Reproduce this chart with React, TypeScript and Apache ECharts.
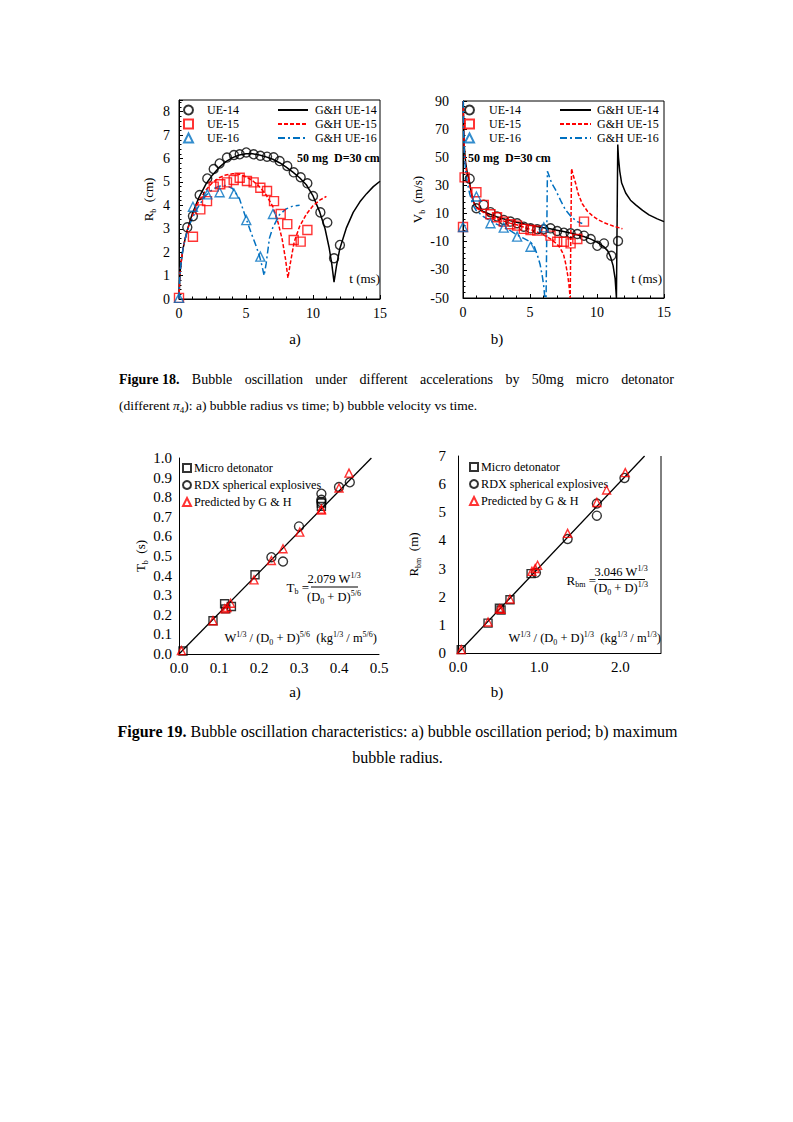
import React, { useEffect, useRef } from 'react';
import * as echarts from 'echarts';

const FONT = '"Liberation Serif", "Times New Roman", serif';

// ---------- Figure 18 a) bubble radius vs time ----------
const radT_UE14 = [0.62, 1.04, 1.54, 2.11, 2.59, 3.03, 3.58, 4.1, 4.53, 5.02, 5.57, 6.07, 6.57, 7.06, 7.51, 8.08, 8.56, 9.08, 9.58, 10.0, 10.55, 11.07, 11.57, 12.01];
const radR_UE14 = [3.06, 3.54, 4.44, 5.15, 5.55, 5.79, 6.04, 6.15, 6.18, 6.26, 6.18, 6.12, 6.08, 6.05, 5.89, 5.68, 5.41, 5.2, 4.94, 4.4, 3.7, 3.27, 1.74, 2.31];
const radT_UE15 = [0, 1.04, 1.59, 2.09, 2.59, 3.08, 3.58, 4.08, 4.53, 5.07, 5.57, 6.07, 6.57, 7.09, 7.59, 8.08, 8.56, 9.08, 9.58];
const radR_UE15 = [0.05, 2.66, 3.83, 4.18, 4.8, 4.9, 4.98, 5.08, 5.18, 5.04, 4.98, 4.75, 4.61, 4.18, 3.63, 3.2, 2.52, 2.45, 2.95];
const radT_UE16 = [0, 1.04, 2.11, 3.03, 4.1, 5.02, 6.07, 7.01];
const radR_UE16 = [0.05, 3.94, 4.47, 4.56, 4.5, 3.37, 1.81, 3.63];

const ghRadT_14 = [0, 0.05, 0.1, 0.2, 0.3, 0.45, 0.6, 0.8, 1.0, 1.25, 1.5, 2, 2.5, 3, 3.5, 4, 4.5, 5, 5.5, 6, 6.5, 7, 7.5, 8, 8.5, 9, 9.5, 10, 10.5, 10.9, 11.2, 11.4, 11.57, 11.75, 12, 12.5, 13, 13.5, 14, 14.5, 15];
const ghRadR_14 = [0, 0.8, 1.25, 1.75, 2.15, 2.55, 2.9, 3.3, 3.65, 4.0, 4.35, 4.9, 5.3, 5.62, 5.87, 6.04, 6.15, 6.2, 6.2, 6.15, 6.07, 5.97, 5.82, 5.63, 5.42, 5.18, 4.88, 4.4, 3.72, 3.0, 2.2, 1.5, 0.72, 1.4, 2.15, 3.05, 3.7, 4.15, 4.5, 4.8, 5.03];
const ghRadT_15 = [0, 0.05, 0.1, 0.2, 0.3, 0.45, 0.6, 0.8, 1.0, 1.25, 1.5, 2, 2.5, 3, 3.5, 4, 4.5, 5, 5.5, 6, 6.5, 7, 7.4, 7.7, 7.95, 8.13, 8.3, 8.6, 9, 9.5, 10, 10.5, 11];
const ghRadR_15 = [0, 0.8, 1.25, 1.75, 2.15, 2.55, 2.9, 3.25, 3.55, 3.9, 4.2, 4.65, 4.98, 5.18, 5.3, 5.35, 5.33, 5.22, 5.05, 4.8, 4.45, 3.95, 3.25, 2.55, 1.7, 0.9, 1.5, 2.45, 3.1, 3.62, 3.98, 4.22, 4.38];
const ghRadT_16 = [0, 0.05, 0.1, 0.2, 0.3, 0.45, 0.6, 0.8, 1.0, 1.25, 1.5, 2, 2.5, 3, 3.5, 4, 4.5, 5, 5.4, 5.7, 6.0, 6.2, 6.35, 6.5, 6.75, 7, 7.5, 8, 8.5, 9];
const ghRadR_16 = [0, 0.8, 1.25, 1.75, 2.15, 2.55, 2.85, 3.2, 3.45, 3.75, 4.0, 4.42, 4.68, 4.82, 4.85, 4.72, 4.3, 3.45, 2.8, 2.35, 1.85, 1.4, 1.0, 1.5, 2.6, 3.05, 3.6, 3.85, 3.97, 4.0];

// ---------- Figure 18 b) bubble velocity vs time ----------
const velT_UE14 = [0.5, 1.0, 1.55, 2.05, 2.54, 3.04, 3.54, 4.04, 4.54, 5.04, 5.54, 6.03, 6.53, 7.03, 7.53, 8.03, 8.53, 9.03, 9.53, 10.02, 10.52, 11.07, 11.57];
const velV_UE14 = [34.8, 13.8, 16.2, 11.0, 7.9, 5.5, 4.3, 3.1, 0.7, -0.5, -1.2, -1.2, -0.5, -2.4, -3.6, -4.0, -4.5, -5.7, -8.1, -12.9, -11.2, -20.0, -9.5];
const velT_UE15 = [0, 0.12, 1.0, 1.55, 2.05, 2.54, 3.04, 3.54, 4.04, 4.54, 5.04, 5.54, 6.53, 7.03, 7.53, 8.03, 8.53, 9.03];
const velV_UE15 = [0.5, 35.7, 25.2, 16.2, 9.5, 7.4, 4.3, 2.4, 1.4, -0.9, -1.7, -2.1, -5.7, -10, -10, -11.2, -8.1, 4.3];
const velT_UE16 = [0, 1.0, 2.05, 3.04, 4.04, 5.04, 6.03];
const velV_UE16 = [0.5, 22.1, 3.1, 0.0, -6.4, -13.6, 0.2];

const ghVelT_14 = [0.02, 0.05, 0.1, 0.2, 0.3, 0.4, 0.5, 0.6, 0.75, 1, 1.5, 2, 2.5, 3, 3.5, 4, 4.5, 5, 5.5, 6, 6.5, 7, 7.5, 8, 8.5, 9, 9.5, 10, 10.5, 10.8, 11, 11.2, 11.35, 11.45, 11.5, 11.55, 11.6, 11.7, 11.84, 12.14, 12.5, 12.89, 13.4, 13.88, 14.5, 15];
const ghVelV_14 = [90, 72, 57, 46, 40, 36, 32, 26, 19, 14.5, 11.5, 9.5, 7.8, 6.3, 5, 3.8, 2.8, 1.8, 0.8, 0, -0.8, -1.8, -2.8, -3.8, -5, -6.3, -8, -10.3, -13.5, -16.5, -20.5, -27, -36, -50, -50, 59, 50, 40, 31.7, 24.6, 19.5, 16.2, 12.3, 9.1, 6.2, 4.3];
const ghVelT_15 = [0.02, 0.05, 0.1, 0.2, 0.3, 0.5, 0.75, 1, 1.5, 2, 2.5, 3, 3.5, 4, 4.5, 5, 5.5, 6, 6.5, 7, 7.25, 7.5, 7.65, 7.8, 7.9, 8.0, 8.05, 8.1, 8.2, 8.4, 8.6, 8.9, 9.3, 9.65, 10.1, 10.64, 11.2, 11.9];
const ghVelV_15 = [90, 70, 55, 44, 38, 30, 19, 14, 11, 8.5, 6.5, 4.8, 3.2, 2, 0.5, -1.2, -3, -5.2, -7.8, -11.5, -14.5, -19, -25, -33, -40, -50, -50, 42, 38, 31.7, 24, 17, 11.5, 8.5, 5.5, 3.1, 1.2, -0.8];
const ghVelT_16 = [0.02, 0.05, 0.1, 0.2, 0.3, 0.5, 0.75, 1, 1.5, 2, 2.5, 3, 3.5, 4, 4.5, 5, 5.3, 5.55, 5.75, 5.91, 6.02, 6.11, 6.2, 6.3, 6.4, 6.6, 6.9, 7.3, 7.65, 8.1, 8.53, 8.9];
const ghVelV_16 = [90, 68, 52, 40, 33, 24, 16, 12, 8, 5, 2.5, 0.5, -2, -5, -7.5, -10, -13, -19.5, -26, -34, -41, -50, -50, 40, 37.6, 32, 27, 19, 12.6, 7.5, 4.3, 3];

// ---------- Figure 19 a) oscillation period ----------
const perMicroX = [0.01, 0.085, 0.114, 0.117, 0.131, 0.19, 0.356, 0.356];
const perMicroY = [0.015, 0.17, 0.256, 0.23, 0.242, 0.404, 0.77, 0.753];
const perRdxX = [0.231, 0.26, 0.3, 0.356, 0.356, 0.356, 0.4, 0.427];
const perRdxY = [0.494, 0.472, 0.651, 0.818, 0.787, 0.775, 0.852, 0.876];
const perPredX = [0.006, 0.085, 0.114, 0.12, 0.129, 0.1875, 0.231, 0.26, 0.302, 0.356, 0.356, 0.4, 0.425];
const perPredY = [0.017, 0.17, 0.23, 0.237, 0.259, 0.378, 0.477, 0.537, 0.622, 0.739, 0.735, 0.847, 0.923];
const perFitX = [0, 0.481];
const perFitY = [0, 1.0];

// ---------- Figure 19 b) maximum bubble radius ----------
const radMicroX = [0.04, 0.37, 0.51, 0.53, 0.64, 0.9];
const radMicroY = [0.12, 1.06, 1.59, 1.53, 1.89, 2.82];
const radRdxX = [0.96, 1.35, 1.71, 1.71, 2.05];
const radRdxY = [2.85, 4.05, 5.31, 4.88, 6.22];
const radPredX = [0.04, 0.37, 0.51, 0.53, 0.64, 0.91, 0.95, 0.98, 1.35, 1.71, 1.83, 2.06];
const radPredY = [0.12, 1.1, 1.57, 1.55, 1.92, 2.9, 3.0, 3.12, 4.25, 5.35, 5.79, 6.41];
const radFitX = [0, 2.298];
const radFitY = [0, 7.0];

const zip = (a: number[], b: number[]) => a.map((v, i) => [v, b[i]]);

const richSet = (size: number) => ({
  n: { fontSize: size, fontFamily: FONT, color: '#000', fill: '#000', lineHeight: Math.round(size * 1.3), verticalAlign: 'middle' },
  bb: { fontSize: size, fontFamily: FONT, fontWeight: 'bold', color: '#000', fill: '#000', lineHeight: Math.round(size * 1.3), verticalAlign: 'middle' },
  i: { fontSize: size, fontFamily: FONT, fontStyle: 'italic', color: '#000', fill: '#000', lineHeight: Math.round(size * 1.3), verticalAlign: 'middle' },
  sup: { fontSize: Math.round(size * 0.64), fontFamily: FONT, color: '#000', fill: '#000', lineHeight: Math.round(size * 0.75), verticalAlign: 'top' },
  sub: { fontSize: Math.round(size * 0.64), fontFamily: FONT, color: '#000', fill: '#000', lineHeight: Math.round(size * 0.75), verticalAlign: 'bottom' },
});

const BLACK = '#000000';
const RED = '#ff0000';
const BLUE = '#0070c0';

function rtext(x: number, y: number, text: string, size: number, align = 'left') {
  return { type: 'text', x, y, style: { text, rich: richSet(size), align, verticalAlign: 'middle', fill: '#000', fontFamily: FONT, fontSize: size } };
}
function ptext(x: number, y: number, text: string, size: number, align = 'left', bold = false) {
  return { type: 'text', x, y, style: { text, fill: '#000', fontFamily: FONT, fontSize: size, fontWeight: bold ? 'bold' : 'normal', align, verticalAlign: 'middle' } };
}

function justified(tokens: { t: string; bold?: boolean }[], x0: number, x1: number, y: number, size: number) {
  const ctx = document.createElement('canvas').getContext('2d')!;
  const widths = tokens.map((w) => {
    ctx.font = `${w.bold ? 'bold ' : ''}${size}px "Liberation Serif"`;
    return ctx.measureText(w.t).width;
  });
  const total = widths.reduce((a, b) => a + b, 0);
  const gap = (x1 - x0 - total) / (tokens.length - 1);
  let x = x0;
  return tokens.map((w, i) => {
    const el = ptext(x, y, w.t, size, 'left', !!w.bold);
    x += widths[i] + gap;
    return el;
  });
}

const axisCommon = {
  type: 'value',
  splitLine: { show: false },
  axisLine: { show: true, onZero: false, lineStyle: { color: BLACK, width: 1 } },
  axisLabel: { color: BLACK, fontFamily: FONT, fontSize: 14 },
};
const tickStyle = {
  axisTick: { show: true, inside: true, length: 4, lineStyle: { color: BLACK, width: 1 } },
  minorTick: { show: true, splitNumber: 5, length: 2.5, lineStyle: { color: BLACK, width: 1 } },
};
const noTicks = { axisTick: { show: false }, minorTick: { show: false } };
const intOnly = (v: number) => (Math.abs(v - Math.round(v)) < 1e-9 ? String(Math.round(v)) : '');

function buildOption() {
  const scat = (name: string, xi: number, data: number[][], symbol: string, color: string, size = 9) => ({
    type: 'scatter', name, xAxisIndex: xi, yAxisIndex: xi, data, symbol, symbolSize: size,
    itemStyle: { color: 'rgba(255,255,255,0)', borderColor: color, borderWidth: 1.4 }, z: 4,
  });
  const line = (name: string, xi: number, data: number[][], color: string, type: any, width = 1.5) => ({
    type: 'line', name, xAxisIndex: xi, yAxisIndex: xi, data, symbol: 'none', clip: true,
    lineStyle: { color, width, type }, itemStyle: { color }, z: 3,
  });

  const legendText = { color: BLACK, fontFamily: FONT, fontSize: 12, lineHeight: 14 };
  const legendText19 = { color: BLACK, fontFamily: FONT, fontSize: 12.2, lineHeight: 14 };
  const hiddenSymbol = { color: 'rgba(0,0,0,0)', borderColor: 'rgba(0,0,0,0)', borderWidth: 0, opacity: 0 };

  const graphic: any[] = [
    // figure 18 annotations
    ptext(297, 158, '50 mg  D=30 cm', 12, 'left', true),
    ptext(468, 158, '50 mg  D=30 cm', 12, 'left', true),
    ptext(380, 278, 't (ms)', 13, 'right'),
    ptext(662, 278, 't (ms)', 13, 'right'),
    ptext(295, 339, 'a)', 15, 'center'),
    ptext(497, 339, 'b)', 15, 'center'),
    ...justified(
      [
        { t: 'Figure 18.', bold: true }, { t: 'Bubble' }, { t: 'oscillation' }, { t: 'under' }, { t: 'different' },
        { t: 'accelerations' }, { t: 'by' }, { t: '50mg' }, { t: 'micro' }, { t: 'detonator' },
      ],
      119, 674, 379, 14,
    ),
    rtext(119, 405, '{n|(different }{i|π}{sub|4}{n|): a) bubble radius vs time; b) bubble velocity vs time.}', 13.5, 'left'),
    // figure 19 annotations
    rtext(309, 587, '{n|T}{sub|b}{n| =}', 13, 'right'),
    rtext(334, 579, '{n|2.079 W}{sup|1/3}', 12.5, 'center'),
    { type: 'line', shape: { x1: 311, y1: 587, x2: 358, y2: 587 }, style: { stroke: BLACK, lineWidth: 1 } },
    rtext(334, 597, '{n|(D}{sub|0}{n| + D)}{sup|5/6}', 12.5, 'center'),
    rtext(377, 638, '{n|W}{sup|1/3}{n| / (D}{sub|0}{n| + D)}{sup|5/6}{n|  (kg}{sup|1/3}{n| / m}{sup|5/6}{n|)}', 12.5, 'right'),
    rtext(596, 580, '{n|R}{sub|bm}{n| =}', 13, 'right'),
    rtext(621, 572, '{n|3.046 W}{sup|1/3}', 12.5, 'center'),
    { type: 'line', shape: { x1: 598, y1: 579.5, x2: 645, y2: 579.5 }, style: { stroke: BLACK, lineWidth: 1 } },
    rtext(621, 588, '{n|(D}{sub|0}{n| + D)}{sup|1/3}', 12.5, 'center'),
    rtext(661, 638, '{n|W}{sup|1/3}{n| / (D}{sub|0}{n| + D)}{sup|1/3}{n|  (kg}{sup|1/3}{n| / m}{sup|1/3}{n|)}', 12.5, 'right'),
    { type: 'line', shape: { x1: 661, y1: 456, x2: 661, y2: 653 }, style: { stroke: BLACK, lineWidth: 1 } },
    ptext(295, 692, 'a)', 15, 'center'),
    ptext(497, 692, 'b)', 15, 'center'),
    rtext(397.5, 731, '{bb|Figure 19.}{n| Bubble oscillation characteristics: a) bubble oscillation period; b) maximum}', 16, 'center'),
    ptext(397.5, 757, 'bubble radius.', 16, 'center'),
  ];

  return {
    animation: false,
    backgroundColor: '#ffffff',
    textStyle: { fontFamily: FONT },
    grid: [
      { left: 179, top: 100, width: 201, height: 199, show: true, borderColor: BLACK, borderWidth: 1, backgroundColor: 'transparent' },
      { left: 463, top: 101, width: 201, height: 197, show: true, borderColor: BLACK, borderWidth: 1, backgroundColor: 'transparent' },
      { left: 179, top: 458, width: 200, height: 196 },
      { left: 458, top: 456, width: 203, height: 197 },
    ],
    xAxis: [
      { ...axisCommon, ...tickStyle, gridIndex: 0, min: 0, max: 15, interval: 5, axisLabel: { ...axisCommon.axisLabel, margin: 7 } },
      { ...axisCommon, ...tickStyle, gridIndex: 1, min: 0, max: 15, interval: 5, axisLabel: { ...axisCommon.axisLabel, margin: 7 } },
      { ...axisCommon, ...noTicks, gridIndex: 2, min: 0, max: 0.5, interval: 0.1, axisLabel: { ...axisCommon.axisLabel, fontSize: 15, margin: 6, formatter: (v: number) => v.toFixed(1) } },
      { ...axisCommon, ...noTicks, gridIndex: 3, min: 0, max: 2.5, interval: 1, axisLabel: { ...axisCommon.axisLabel, fontSize: 15, margin: 6, formatter: (v: number) => (Math.abs(v - Math.round(v)) < 1e-9 ? v.toFixed(1) : '') } },
    ],
    yAxis: [
      {
        ...axisCommon, ...tickStyle, gridIndex: 0, min: 0, max: 8.5, interval: 1,
        axisLabel: { ...axisCommon.axisLabel, margin: 9, formatter: intOnly },
        name: '{n|R}{sub|b}{n|  (cm)}', nameLocation: 'middle', nameGap: 22, nameTextStyle: { rich: richSet(13) },
      },
      {
        ...axisCommon, ...tickStyle, gridIndex: 1, min: -50, max: 90, interval: 20,
        axisLabel: { ...axisCommon.axisLabel, margin: 14 },
        name: '{n|V}{sub|b}{n|  (m/s)}', nameLocation: 'middle', nameGap: 21, nameTextStyle: { rich: richSet(13) },
      },
      {
        ...axisCommon, ...noTicks, gridIndex: 2, min: 0, max: 1, interval: 0.1,
        axisLabel: { ...axisCommon.axisLabel, fontSize: 15, margin: 7, formatter: (v: number) => v.toFixed(1) },
        name: '{n|T}{sub|b}{n|  (s)}', nameLocation: 'middle', nameGap: 21, nameTextStyle: { rich: richSet(13) },
      },
      {
        ...axisCommon, ...noTicks, gridIndex: 3, min: 0, max: 7, interval: 1,
        axisLabel: { ...axisCommon.axisLabel, fontSize: 15, margin: 12, formatter: intOnly },
        name: '{n|R}{sub|bm}{n|  (m)}', nameLocation: 'middle', nameGap: 36, nameTextStyle: { rich: richSet(13) },
      },
    ],
    legend: [
      { data: ['UE-14', 'UE-15', 'UE-16'], left: 183, top: 103, orient: 'vertical', padding: 0, itemWidth: 9, itemHeight: 9, itemGap: 0, selectedMode: false, textStyle: { ...legendText, padding: [0, 0, 0, 9] } },
      { data: ['G&H UE-14', 'G&H UE-15', 'G&H UE-16'], left: 277, top: 103, orient: 'vertical', padding: 0, itemWidth: 30, itemHeight: 10, itemGap: 0, selectedMode: false, itemStyle: hiddenSymbol, textStyle: { ...legendText, padding: [0, 0, 0, 2] } },
      { data: ['UE-14', 'UE-15', 'UE-16'], left: 464, top: 103, orient: 'vertical', padding: 0, itemWidth: 9, itemHeight: 9, itemGap: 0, selectedMode: false, textStyle: { ...legendText, padding: [0, 0, 0, 10] } },
      { data: ['G&H UE-14', 'G&H UE-15', 'G&H UE-16'], left: 559, top: 103, orient: 'vertical', padding: 0, itemWidth: 31, itemHeight: 10, itemGap: 0, selectedMode: false, itemStyle: hiddenSymbol, textStyle: { ...legendText, padding: [0, 0, 0, 1] } },
      { data: ['Micro detonator', 'RDX spherical explosives', 'Predicted by G & H'], left: 182, top: 461, orient: 'vertical', padding: 0, itemWidth: 8, itemHeight: 8, itemGap: 3, selectedMode: false, textStyle: { ...legendText19, padding: [0, 0, 0, -2] } },
      { data: ['Micro detonator', 'RDX spherical explosives', 'Predicted by G & H'], left: 469, top: 460, orient: 'vertical', padding: 0, itemWidth: 8, itemHeight: 8, itemGap: 3, selectedMode: false, textStyle: { ...legendText19, padding: [0, 0, 0, -2] } },
    ],
    graphic,
    series: [
      // 18 a
      line('G&H UE-14', 0, zip(ghRadT_14, ghRadR_14), BLACK, 'solid'),
      line('G&H UE-15', 0, zip(ghRadT_15, ghRadR_15), RED, [4, 2]),
      line('G&H UE-16', 0, zip(ghRadT_16, ghRadR_16), BLUE, [7, 3, 2, 3]),
      scat('UE-14', 0, zip(radT_UE14, radR_UE14), 'circle', BLACK),
      scat('UE-15', 0, zip(radT_UE15, radR_UE15), 'rect', RED),
      scat('UE-16', 0, zip(radT_UE16, radR_UE16), 'triangle', BLUE),
      // 18 b
      line('G&H UE-14', 1, zip(ghVelT_14, ghVelV_14), BLACK, 'solid'),
      line('G&H UE-15', 1, zip(ghVelT_15, ghVelV_15), RED, [4, 2]),
      line('G&H UE-16', 1, zip(ghVelT_16, ghVelV_16), BLUE, [7, 3, 2, 3]),
      scat('UE-14', 1, zip(velT_UE14, velV_UE14), 'circle', BLACK),
      scat('UE-15', 1, zip(velT_UE15, velV_UE15), 'rect', RED),
      scat('UE-16', 1, zip(velT_UE16, velV_UE16), 'triangle', BLUE),
      // 19 a
      { type: 'line', name: 'fit a', xAxisIndex: 2, yAxisIndex: 2, data: zip(perFitX, perFitY), symbol: 'none', lineStyle: { color: BLACK, width: 1.3 }, z: 2 },
      scat('Micro detonator', 2, zip(perMicroX, perMicroY), 'rect', BLACK, 8),
      scat('RDX spherical explosives', 2, zip(perRdxX, perRdxY), 'circle', BLACK, 9),
      scat('Predicted by G & H', 2, zip(perPredX, perPredY), 'triangle', RED, 8),
      // 19 b
      { type: 'line', name: 'fit b', xAxisIndex: 3, yAxisIndex: 3, data: zip(radFitX, radFitY), symbol: 'none', lineStyle: { color: BLACK, width: 1.3 }, z: 2 },
      scat('Micro detonator', 3, zip(radMicroX, radMicroY), 'rect', BLACK, 8),
      scat('RDX spherical explosives', 3, zip(radRdxX, radRdxY), 'circle', BLACK, 9),
      scat('Predicted by G & H', 3, zip(radPredX, radPredY), 'triangle', RED, 8),
    ],
  };
}

export default function App() {
  const ref = useRef<HTMLDivElement>(null);
  useEffect(() => {
    const chart = echarts.init(ref.current!, null, { renderer: 'svg' });
    chart.setOption(buildOption() as any);
    return () => chart.dispose();
  }, []);
  return (
    <div
      ref={ref}
      style={{ position: 'absolute', left: 0, top: 0, width: 793, height: 1122, background: '#fff' }}
    />
  );
}
